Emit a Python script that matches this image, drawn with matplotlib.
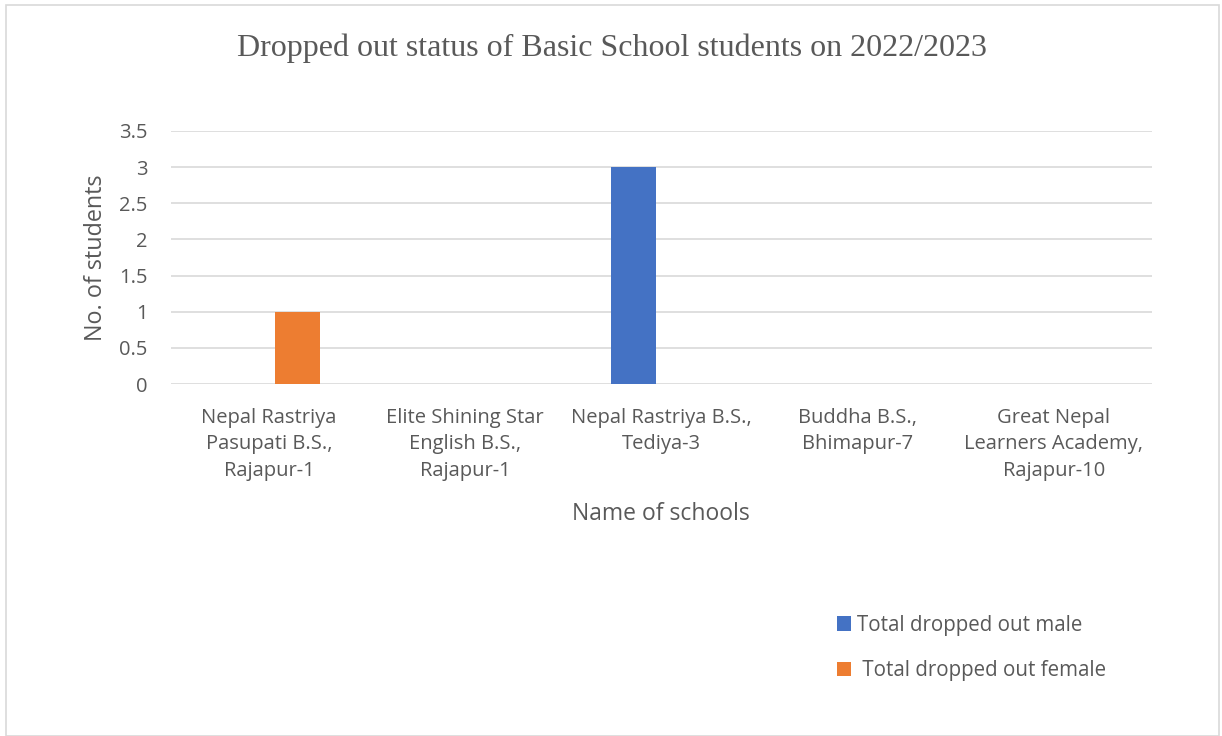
import matplotlib
matplotlib.use("Agg")
import matplotlib.pyplot as plt
from matplotlib.patches import Rectangle
import numpy as np

categories = ["Nepal Rastriya\nPasupati B.S.,\nRajapur-1",
              "Elite Shining Star\nEnglish B.S.,\nRajapur-1",
              "Nepal Rastriya B.S.,\nTediya-3",
              "Buddha B.S.,\nBhimapur-7",
              "Great Nepal\nLearners Academy,\nRajapur-10"]
male = [0, 0, 3, 0, 0]
female = [1, 0, 0, 0, 0]
yticks = [0, 0.5, 1, 1.5, 2, 2.5, 3, 3.5]
ytick_labels = ["0", "0.5", "1", "1.5", "2", "2.5", "3", "3.5"]
series_labels = ["Total dropped out male", " Total dropped out female"]

W, H = 1222, 736
fig = plt.figure(figsize=(W/100, H/100), dpi=100)
fig.patch.set_facecolor("white")

# outer chart border
fig.add_artist(Rectangle((6/W, 0), (1219-6)/W, 1-5/H, transform=fig.transFigure,
                         fill=False, edgecolor="#d9d9d9", linewidth=1.2))

left, right, top, bottom = 171, 1152, 131, 384
ax = fig.add_axes([left/W, 1-bottom/H, (right-left)/W, (bottom-top)/H])
ax.set_xlim(-0.5, 4.5)
ax.set_ylim(0, 3.5)

x = np.arange(len(categories))
bw = 0.229
off = 0.143
ax.bar(x - off, male, bw, color="#4472C4", label=series_labels[0], zorder=3)
ax.bar(x + off, female, bw, color="#ED7D31", label=series_labels[1], zorder=3)

font = "Open Sans"
tc = "#595959"
ax.set_yticks(yticks)
ax.set_yticklabels(ytick_labels, fontsize=14.5, color=tc, family=font)
ax.set_xticks(x)
ax.set_xticklabels(categories, fontsize=14.5, color=tc, family=font, linespacing=1.43)
ax.tick_params(axis="both", length=0)
ax.tick_params(axis="y", pad=17)
ax.tick_params(axis="x", pad=17)
ax.grid(axis="y", color="#d9d9d9", linewidth=1.2, zorder=0)
for s in ax.spines.values():
    s.set_visible(False)
ax.set_facecolor("none")

fig.text(612/W, 1-48/H, "Dropped out status of Basic School students on 2022/2023",
         ha="center", va="center", fontsize=23, color="#595959", family="Liberation Serif")
fig.text(96/W, 1-258/H, "No. of students", rotation=90, ha="center", va="center",
         fontsize=16.8, color=tc, family=font)
fig.text(661/W, 1-514/H, "Name of schools", ha="center", va="center",
         fontsize=16.5, color=tc, family=font)

leg = fig.legend(loc="upper left", bbox_to_anchor=(818/W, 1-596/H), frameon=False,
                 prop={"family": font, "size": 14.8}, labelcolor=tc,
                 handlelength=0.72, handleheight=0.72, handletextpad=0.3,
                 labelspacing=1.2)

fig.savefig("out.png", dpi=100, facecolor="white")
